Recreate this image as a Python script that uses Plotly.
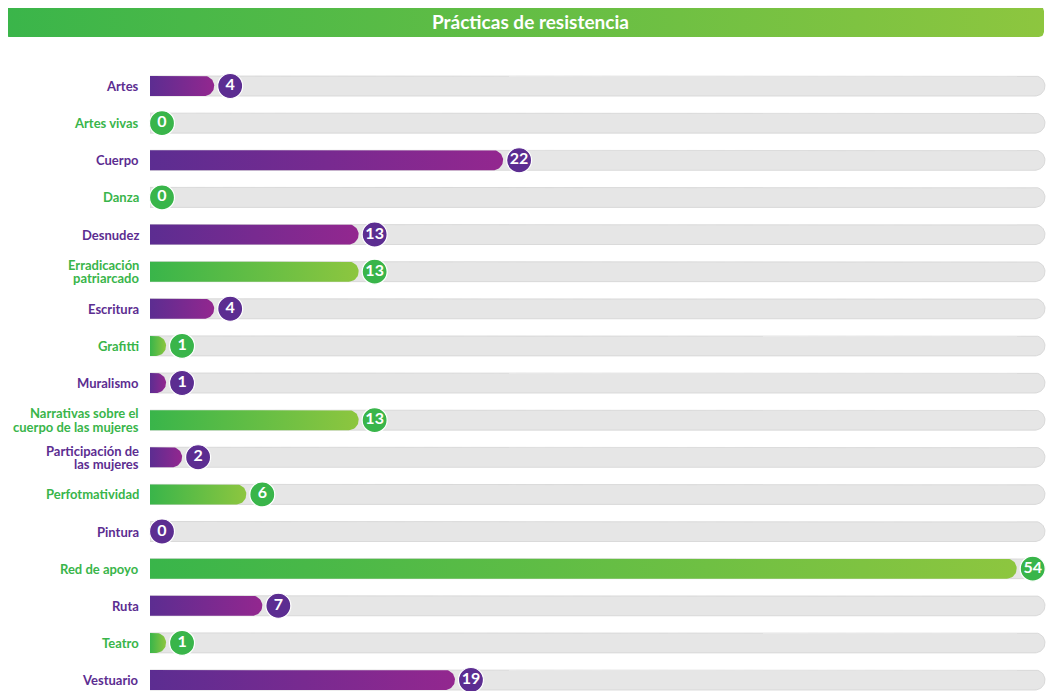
import numpy as np
import plotly.graph_objects as go

# ---------------- data ----------------
categories = [
    "Artes", "Artes vivas", "Cuerpo", "Danza", "Desnudez",
    "Erradicación<br>patriarcado", "Escritura", "Grafitti", "Muralismo",
    "Narrativas sobre el<br>cuerpo de las mujeres",
    "Participación de<br>las mujeres", "Perfotmatividad", "Pintura",
    "Red de apoyo", "Ruta", "Teatro", "Vestuario",
]
values = [4, 0, 22, 0, 13, 13, 4, 1, 1, 13, 2, 6, 0, 54, 7, 1, 19]
groups = ["p", "g", "p", "g", "p", "g", "p", "g", "p", "g", "p", "g", "p", "g", "p", "g", "p"]
title_text = "Prácticas de resistencia"

# ---------------- style ----------------
PAGE_OFF = 8                      # browser body margin
W, H = 1054 - 2 * PAGE_OFF, 691 - PAGE_OFF
X0_PX = 150 - PAGE_OFF            # pixel where value 0 sits
SX = 16.05                        # pixels per unit
ROW0_PX = 86 - PAGE_OFF           # pixel centre of first row
ROW_STEP = 37.125                 # pixels between rows
TRACK_END_PX = W - 1
PURPLE = "#5c2d91"
MAGENTA = "#93278f"
GREEN = "#39b54a"
LIME = "#8dc63f"
FONT = "Lato"

grad = {"p": [[0, PURPLE], [1, MAGENTA]], "g": [[0, GREEN], [1, LIME]]}
solid = {"p": PURPLE, "g": GREEN}


def pill(length, yc, half_px=10, r_px=10, n=24):
    rx = r_px / SX
    ry = half_px / ROW_STEP
    length = max(length, rx)
    t = np.linspace(-np.pi / 2, np.pi / 2, n)
    xs = [0] + list(length - rx + rx * np.cos(t)) + [0, 0]
    ys = [yc - ry] + list(yc + ry * np.sin(t)) + [yc + ry, yc - ry]
    return xs, ys


fig = go.Figure()

# grey tracks
track_len = (TRACK_END_PX - X0_PX) / SX
for i, _ in enumerate(categories):
    xs, ys = pill(track_len, i)
    fig.add_trace(go.Scatter(
        x=xs, y=ys, mode="lines", fill="toself", fillcolor="#e6e6e6",
        line=dict(width=0.8, color="#d3d3d3"), hoverinfo="skip", showlegend=False,
    ))

# gradient bars
for i, (v, g) in enumerate(zip(values, groups)):
    if v <= 0:
        continue
    xs, ys = pill(v, i)
    fig.add_trace(go.Scatter(
        x=xs, y=ys, mode="lines", fill="toself",
        fillgradient=dict(type="horizontal", colorscale=grad[g]),
        line=dict(width=0), hoverinfo="skip", showlegend=False,
    ))

# value circles
cx = [v + (16 if v > 0 else 12) / SX for v in values]
fig.add_trace(go.Scatter(
    x=cx, y=list(range(len(values))), mode="markers+text",
    marker=dict(size=25, color=[solid[g] for g in groups], line=dict(width=1.2, color="white")),
    text=[f"<b>{v}</b>" for v in values], textposition="middle center",
    textfont=dict(family=FONT, size=16, color="white"),
    cliponaxis=False, hoverinfo="skip", showlegend=False,
))

# title banner (decorative, drawn in pixel-space helper axes at the top)
BANNER_H = 40
bx0, bx1, by0, by1, br = -4, W - 2, -2, 29, 5
corners = []
for (cxp, cyp, a0) in [(bx1 - br, by0 + br, -np.pi / 2), (bx1 - br, by1 - br, 0),
                       (bx0 + br, by1 - br, np.pi / 2), (bx0 + br, by0 + br, np.pi)]:
    a = np.linspace(a0, a0 + np.pi / 2, 8)
    corners += list(zip(cxp + br * np.cos(a), cyp + br * np.sin(a)))
corners.append(corners[0])
fig.add_trace(go.Scatter(
    x=[c[0] for c in corners], y=[c[1] for c in corners], mode="lines", fill="toself",
    fillgradient=dict(type="horizontal", colorscale=[[0, "#3ab54a"], [1, "#8dc63f"]]),
    line=dict(width=0), xaxis="x2", yaxis="y2", hoverinfo="skip", showlegend=False,
))

# category labels (one annotation per line for tight line spacing)
annotations = []
LINE_H = 13.5
for i, (c, g) in enumerate(zip(categories, groups)):
    lines = c.split("<br>")
    n = len(lines)
    for k, ln in enumerate(lines):
        shift = ((n - 1) / 2 - k) * LINE_H
        annotations.append(dict(
            text=f"<b>{ln}</b>", x=0, y=i, xref="x", yref="y",
            xanchor="right", yanchor="middle", xshift=-9, yshift=shift,
            showarrow=False, font=dict(family=FONT, size=13, color=solid[g]),
        ))

annotations.append(dict(
    text=f"<b>{title_text}</b>", x=(530 - PAGE_OFF) / W, y=1 - (21 - PAGE_OFF) / H,
    xref="paper", yref="paper", xanchor="center", yanchor="middle", showarrow=False,
    font=dict(family=FONT, size=19, color="white"),
))

fig.update_layout(
    width=W, height=H,
    margin=dict(l=0, r=0, t=0, b=0),
    paper_bgcolor="white", plot_bgcolor="rgba(0,0,0,0)",
    xaxis=dict(domain=[X0_PX / W, 1], range=[0, (W - X0_PX) / SX],
               visible=False, fixedrange=True),
    yaxis=dict(domain=[0, 1],
               range=[(H - ROW0_PX) / ROW_STEP, -ROW0_PX / ROW_STEP],
               visible=False, fixedrange=True),
    xaxis2=dict(domain=[0, 1], range=[0, W], visible=False, anchor="y2", fixedrange=True),
    yaxis2=dict(domain=[1 - BANNER_H / H, 1], range=[BANNER_H, 0], visible=False,
                anchor="x2", fixedrange=True),
    annotations=annotations,
)

fig.write_html("out.html")
